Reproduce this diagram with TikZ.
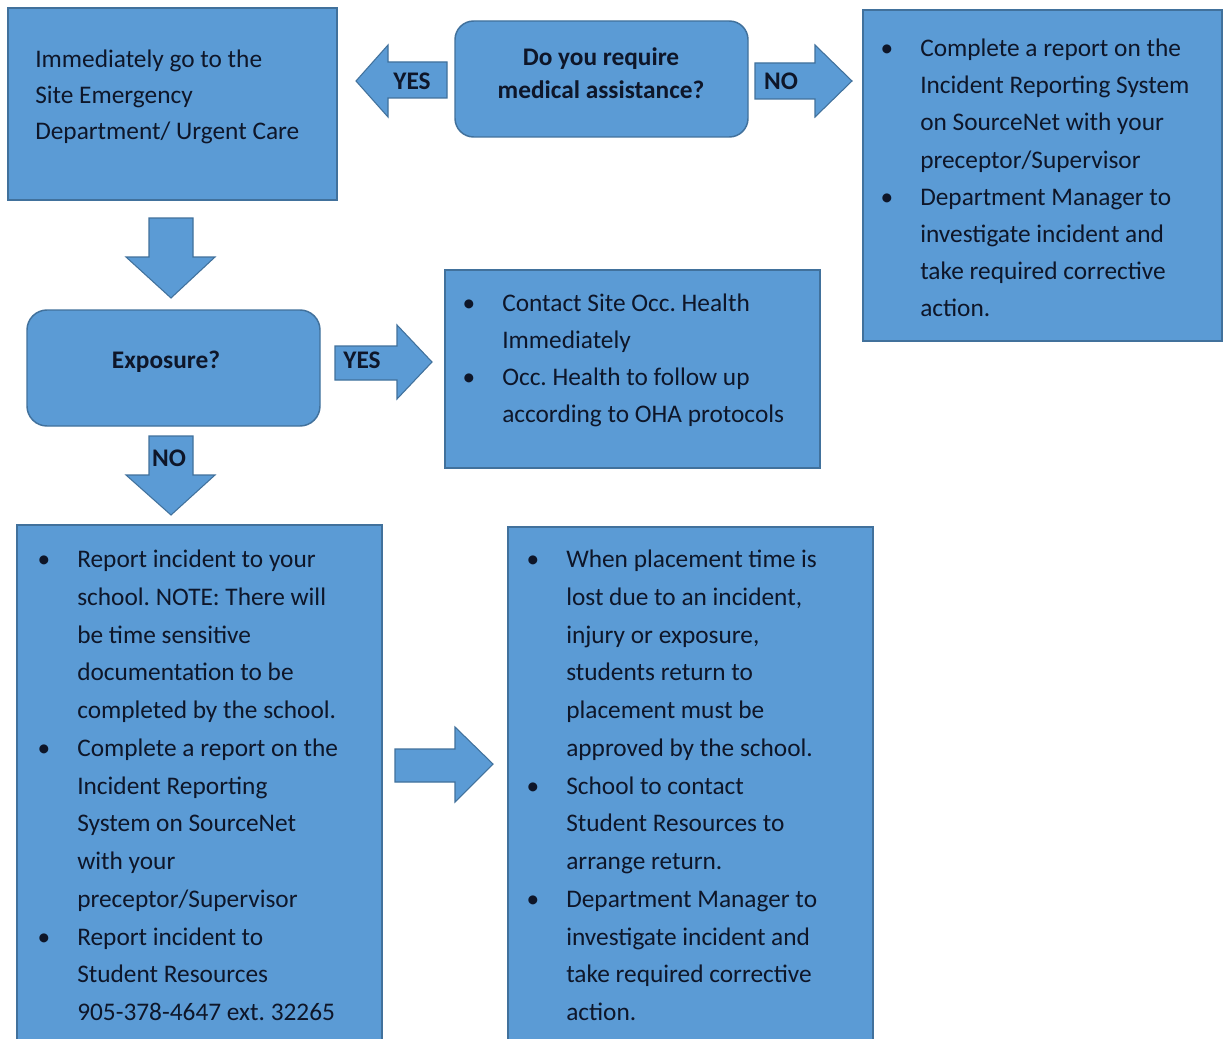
\documentclass[tikz,border=0pt]{standalone}
\usepackage{fontspec}
\setmainfont{Carlito}
\frenchspacing
\definecolor{boxfill}{HTML}{5B9BD5}
\definecolor{boxline}{HTML}{41719C}
\definecolor{ink}{HTML}{0E1629}
\newcommand\tl[4]{\node[txt] (#1) at (#2,#3) {#4};}
\newcommand\bl[4]{\node[bul] (#1) at (#2,#3) {\textbullet};\node[txt] (#1t) at (#2+33,#3) {#4};}
\tikzset{
  boxst/.style={fill=boxfill,draw=boxline,line width=1.1pt},
  arrst/.style={fill=boxfill,draw=boxline,line width=0.8pt,line join=miter},
  txt/.style={anchor=base west,inner sep=0pt,text=ink,font=\fontsize{19}{19}\selectfont\frenchspacing},
  bul/.style={anchor=base,inner sep=0pt,text=ink,font=\fontsize{19}{19}\selectfont},
  lbl/.style={anchor=base,inner sep=0pt,text=ink,font=\fontsize{19}{19}\selectfont\bfseries},
}
\begin{document}
\begin{tikzpicture}[x=0.75pt,y=-0.75pt]
\path[use as bounding box] (0,0) rectangle (1223,1038);
\clip (0,0) rectangle (1223,1038);
\fill[white] (0,0) rectangle (1223,1038);

% boxes
\draw[boxst] (8,8) rectangle (337,200);
\draw[boxst,rounded corners=14pt] (455,21) rectangle (748,137);
\draw[boxst] (863,10) rectangle (1222,341);
\draw[boxst,rounded corners=15pt] (27,310) rectangle (320,426);
\draw[boxst] (445,270) rectangle (820,468);
\draw[boxst] (17,525) rectangle (382,1050);
\draw[boxst] (508,527) rectangle (873,1050);

% block arrows
\draw[arrst] (356,81) -- (388,45) -- (388,62) -- (447,62) -- (447,98) -- (388,98) -- (388,117) -- cycle;
\draw[arrst] (852,81) -- (815,45) -- (815,63) -- (755,63) -- (755,99) -- (815,99) -- (815,117) -- cycle;
\draw[arrst] (171,298) -- (126,257) -- (149,257) -- (149,218) -- (193,218) -- (193,257) -- (215,257) -- cycle;
\draw[arrst] (432,362) -- (397,325) -- (397,346) -- (335,346) -- (335,380) -- (397,380) -- (397,399) -- cycle;
\draw[arrst] (171,515) -- (126,475) -- (149,475) -- (149,436) -- (193,436) -- (193,475) -- (215,475) -- cycle;
\draw[arrst] (493,764) -- (455,727) -- (455,749) -- (395,749) -- (395,782) -- (455,782) -- (455,802) -- cycle;

% arrow labels
\node[lbl] (yes1) at (412,90) {YES};
\node[lbl] (no1) at (781,90) {NO};
\node[lbl] (yes2) at (362,368) {YES};
\node[lbl] (no2) at (169,466) {NO};

% box A
\tl{a1}{35}{68}{Immediately go to the}
\tl{a2}{35}{104}{Site Emergency}
\tl{a3}{35}{140}{Department/ Urgent Care}

% decision 1
\node[lbl] (d1a) at (601,66) {Do you require};
\node[lbl] (d1b) at (601,99) {medical assistance?};

% exposure
\node[lbl] (ex) at (166,368) {Exposure?};

% right box
\bl{r1}{887}{57}{Complete a report on the}
\tl{r2}{920}{94}{Incident Reporting System}
\tl{r3}{920}{131}{on SourceNet with your}
\tl{r4}{920}{168}{preceptor/Supervisor}
\bl{r5}{887}{205}{Department Manager to}
\tl{r6}{920}{242}{investigate incident and}
\tl{r7}{920}{279}{take required corrective}
\tl{r8}{920}{316}{action.}

% occ health box
\bl{o1}{469}{311}{Contact Site Occ. Health}
\tl{o2}{502}{348}{Immediately}
\bl{o3}{469}{385}{Occ. Health to follow up}
\tl{o4}{502}{422}{according to OHA protocols}

% bottom left
\bl{l1}{44}{567}{Report incident to your}
\tl{l2}{77}{605}{school. NOTE: There will}
\tl{l3}{77}{643}{be time sensitive}
\tl{l4}{77}{680}{documentation to be}
\tl{l5}{77}{718}{completed by the school.}
\bl{l6}{44}{756}{Complete a report on the}
\tl{l7}{77}{794}{Incident Reporting}
\tl{l8}{77}{831}{System on SourceNet}
\tl{l9}{77}{869}{with your}
\tl{l10}{77}{907}{preceptor/Supervisor}
\bl{l11}{44}{945}{Report incident to}
\tl{l12}{77}{982}{Student Resources}
\tl{l13}{77}{1020}{905-378-4647 ext. 32265}

% bottom right
\bl{m1}{533}{567}{When placement time is}
\tl{m2}{566}{605}{lost due to an incident,}
\tl{m3}{566}{643}{injury or exposure,}
\tl{m4}{566}{680}{students return to}
\tl{m5}{566}{718}{placement must be}
\tl{m6}{566}{756}{approved by the school.}
\bl{m7}{533}{794}{School to contact}
\tl{m8}{566}{831}{Student Resources to}
\tl{m9}{566}{869}{arrange return.}
\bl{m10}{533}{907}{Department Manager to}
\tl{m11}{566}{945}{investigate incident and}
\tl{m12}{566}{982}{take required corrective}
\tl{m13}{566}{1020}{action.}
\end{tikzpicture}
\end{document}
